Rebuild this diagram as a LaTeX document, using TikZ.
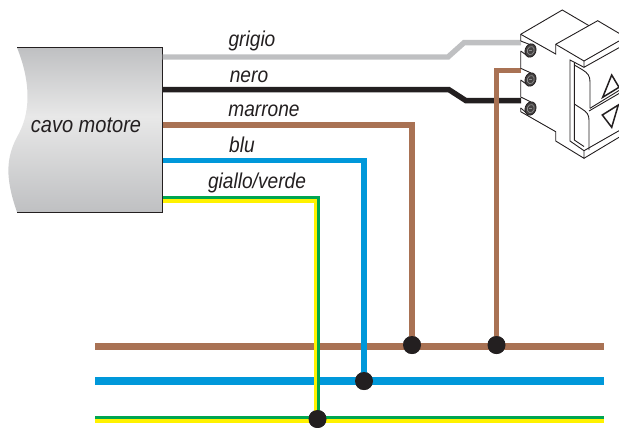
\documentclass[tikz,border=0pt]{standalone}
\usepackage{fontspec}
\setmainfont{Liberation Sans}
\definecolor{wbrown}{HTML}{A97254}
\definecolor{wblue}{HTML}{0098DA}
\definecolor{wgreen}{HTML}{00A650}
\definecolor{wyellow}{HTML}{FFF200}
\definecolor{wgray}{HTML}{BFC0C2}
\definecolor{wblack}{HTML}{231F20}
\pgfdeclareverticalshading{cableshade}{100bp}{
  color(0bp)=(wgray);
  color(25bp)=(wgray);
  color(54bp)=(black!9);
  color(75bp)=(wgray);
  color(100bp)=(wgray)}
\tikzset{
  wire/.style={line width=5.4pt,line join=miter},
  bus/.style={line width=7.4pt},
  thin wire/.style={line width=3.5pt,line join=miter},
  joint/.style={circle,fill=wblack,inner sep=0pt,minimum size=18pt},
  lbl/.style={font=\itshape\fontsize{21.5}{22}\selectfont,text=wblack,anchor=base,inner sep=0pt,xscale=0.89,transform shape},
  body/.style={wblack,line width=0.9pt,line join=miter},
  screw/.style={fill=wblack!85,draw=wblack,line width=0.8pt}
}
\begin{document}
\begin{tikzpicture}[x=1pt,y=-1pt]
\useasboundingbox (0,0) rectangle (619,428);
% cable
\path[shading=cableshade] (17,47.5) .. controls (32,85) and (30,115) .. (17,137)
  .. controls (6,158) and (5,178) .. (17,212) -- (162,212) -- (162,47.5) -- cycle;
\draw[wblack,line width=1pt] (17,47.5) -- (162,47.5) -- (162,212) -- (17,212);
\node[lbl,font=\itshape\fontsize{22.5}{23}\selectfont] (cable) at (86,132.7) {cavo motore};
% anchors
\coordinate (gs) at (162.5,57);
\coordinate (g1) at (448,57);
\coordinate (g2) at (464,42.7);
\coordinate (ge) at (521,42.7);
\coordinate (ks) at (162.5,89.7);
\coordinate (k1) at (449,89.7);
\coordinate (k2) at (466,100.7);
\coordinate (ke) at (521,100.7);
\coordinate (bs) at (162.5,125);
\coordinate (bc) at (412,125);
\coordinate (ls) at (162.5,160.5);
\coordinate (lc) at (364,160.5);
\coordinate (tgs) at (162.5,197.5);
\coordinate (tgc) at (318.7,197.5);
\coordinate (tys) at (162.5,200.8);
\coordinate (tyc) at (315.4,200.8);
\coordinate (te) at (521,70.7);
\coordinate (tc) at (496.5,70.7);
\coordinate (bbl) at (95,346.5);
\coordinate (bbr) at (604,346.5);
\coordinate (lbl) at (95,381);
\coordinate (lbr) at (604,381);
\coordinate (gbl) at (95,417.3);
\coordinate (gbr) at (604,417.3);
\coordinate (ybl) at (95,421);
\coordinate (ybr) at (604,421);
% joints placed first as named nodes (drawn on top below)
\path node[joint] (j1) at (412,345) {} node[joint] (j2) at (496.5,345) {}
  node[joint] (j3) at (364,381) {} node[joint] (j4) at (317.5,419) {};
% buses
\draw[bus,wbrown] (bbl) -- (bbr);
\draw[bus,wblue] (lbl) -- (lbr);
\draw[line width=3.6pt,wgreen] (gbl) -- (gbr);
\draw[line width=3.8pt,wyellow] (ybl) -- (ybr);
% wires
\draw[wire,wgray] (gs) -- (g1) -- (g2) -- (ge);
\draw[wire,wblack] (ks) -- (k1) -- (k2) -- (ke);
\draw[wire,wbrown] (bs) -- (bc) -- (j1.center);
\draw[wire,wblue] (ls) -- (lc) -- (j3.center);
\draw[thin wire,wgreen] (tgs) -- (tgc) -- (tgc |- j4);
\draw[thin wire,wyellow] (tys) -- (tyc) -- (tyc |- j4);
\draw[wire,wbrown] (te) -- (tc) -- (j2.center);
% joints on top
\foreach \j in {j1,j2,j3,j4} \fill[wblack] (\j) circle (9);
% wire labels
\node[lbl] (n1) at (252,47) {grigio};
\node[lbl] (n2) at (249,82) {nero};
\node[lbl] (n3) at (264,117) {marrone};
\node[lbl] (n4) at (242,153) {blu};
\node[lbl] (n5) at (257,188) {giallo/verde};
% switch
\begin{scope}
\clip (500,0) rectangle (619,428);
\draw[body] (520.7,41) -- (520.7,34.3) -- (562.3,10) -- (589,25.7);
\draw[body] (520.7,34.3) -- (555.7,54) -- (555.7,44.3) -- (597.7,20.7) -- (619,33.3);
\draw[body] (555.7,44.3) -- (584,61) -- (619,41);
\draw[body] (584,61) -- (584,67.3) -- (619,47.7);
% left wall with terminals
\draw[body] (520.7,41) -- (531,45) (520.7,51) -- (520.7,68.3) -- (531,73) (520.7,51) -- (529,57);
\draw[body] (520.7,80) -- (520.7,97) -- (531,102) (520.7,80) -- (529,86);
\draw[body] (520.7,108) -- (520.7,111.7) -- (555.7,131.7) -- (555.7,141) -- (584,158.3) -- (584,150.7) -- (619,130.7);
\draw[body] (584,158.3) -- (619,137.3);
\draw[body] (520.7,108) -- (529,115);
% screws
\foreach \y in {50.5,79.5,108.5} {
  \draw[screw,rotate around={-20:(530.5,\y)}] (530.5,\y) ellipse (5.4 and 6.8);
  \draw[black!45,line width=0.7pt,rotate around={-20:(530.5,\y)}] (530.8,\y) ellipse (3.4 and 4.2);
  \draw[black!45,line width=0.6pt] (529.3,\y) -- (532.3,\y);
}
% frame
\draw[body] (584,67.3) -- (570,60) -- (570,141) -- (584,150.7);
\draw[body] (574.3,62.5) -- (574.3,140) -- (584,146.5);
\draw[body] (574.3,65) -- (582,69.5) .. controls (588,73) and (590,76) .. (590,82) -- (590,108.3);
\draw[body] (574.3,104) -- (582,109) .. controls (587,112) and (589,115) .. (589,120) -- (589,150);
\draw[body] (590,108.3) -- (619,90.5);
\draw[body] (589,111) -- (619,93.5);
% arrows
\draw[wblack,line width=1.5pt,line join=miter] (611.7,75) -- (602.7,97.3) -- (619,87.3) -- cycle;
\draw[wblack,line width=1.5pt,line join=miter] (602.3,115) -- (618.3,105) -- (611.7,127.3) -- cycle;
\end{scope}
\end{tikzpicture}
\end{document}
